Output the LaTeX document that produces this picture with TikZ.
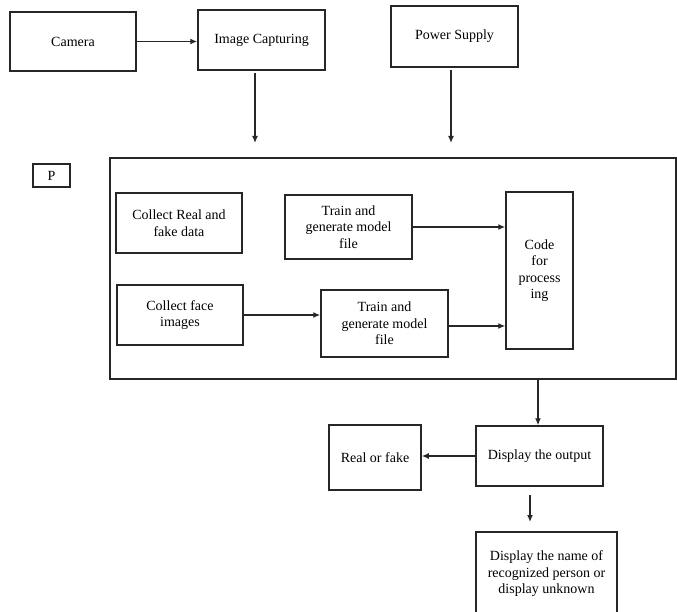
\documentclass[tikz,border=0pt]{standalone}
\usepackage{fontspec}
\setmainfont{Liberation Serif}
\usetikzlibrary{arrows.meta,calc}
\begin{document}
\begin{tikzpicture}[x=1pt,y=-1pt,
  box/.style={draw=black!85,line width=1.5pt,rectangle,inner sep=0pt,align=center,
     font=\fontsize{14}{16.5}\selectfont},
  conn/.style={draw=black!85,line width=1.3pt,-{Latex[length=7pt,width=6pt]}}]
\useasboundingbox (0,0) rectangle (677,612);
% top row
\node[box,minimum width=126pt,minimum height=59pt] (cam) at (73,41.5) {Camera};
\node[box,minimum width=127pt,minimum height=60pt] (ic) at (261.5,40) {Image Capturing};
\node[box,minimum width=127pt,minimum height=61pt] (ps) at (454.5,36.5) {Power Supply};
% P label
\node[box,minimum width=37pt,minimum height=23pt,line width=1.2pt] (p) at (51.5,175.5) {P};
% big box
\node[draw=black!85,line width=1.5pt,rectangle,inner sep=0pt,minimum width=566pt,minimum height=221pt] (big) at (393,268.5) {};
% inner boxes
\node[box,minimum width=126pt,minimum height=60pt] (crf) at (179,223) {Collect Real and\\fake data};
\node[box,minimum width=127pt,minimum height=64pt] (tr1) at (348.5,227) {Train and\\generate model\\file};
\node[box,minimum width=67pt,minimum height=157pt] (code) at (539.5,270.5) {Code\\for\\process\\ing};
\node[box,minimum width=126pt,minimum height=60pt] (face) at (180,315) {Collect face\\images};
\node[box,minimum width=127pt,minimum height=67pt] (tr2) at (384.5,323.5) {Train and\\generate model\\file};
% bottom
\node[box,minimum width=127pt,minimum height=60pt] (disp) at (539.5,456) {Display the output};
\node[box,minimum width=92pt,minimum height=65pt] (real) at (375,457.5) {Real or fake};
\node[box,minimum width=141pt,minimum height=84pt] (name) at (546.5,574) {Display the name of\\recognized person or\\display unknown};
% free-end coordinates
\coordinate (icA) at (255,73);
\coordinate (icB) at (255,143);
\coordinate (psA) at (451,70);
\coordinate (psB) at (451,143);
\coordinate (bigA) at (538,379);
\coordinate (dA) at (530,495);
\coordinate (dB) at (530,522);
% connectors
\draw[conn] (cam.east) -- (cam.east -| ic.west);
\draw[conn] (icA) -- (icB);
\draw[conn] (psA) -- (psB);
\draw[conn] (tr1.east) -- (tr1.east -| code.west);
\draw[conn] (face.east) -- (face.east -| tr2.west);
\draw[conn] ($(tr2.east)+(0,2.5)$) -- ($(tr2.east -| code.west)+(0,2.5)$);
\draw[conn] (bigA) -- (bigA |- disp.north);
\draw[conn] (disp.west) -- (disp.west -| real.east);
\draw[conn] (dA) -- (dB);
\end{tikzpicture}
\end{document}
